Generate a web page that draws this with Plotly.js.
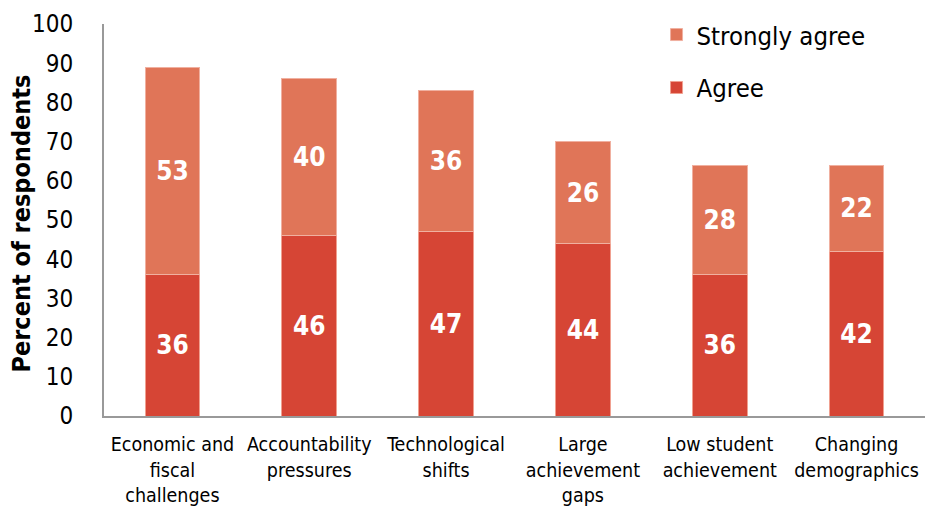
<!DOCTYPE html>
<html>
<head>
<meta charset="utf-8">
<script src="https://cdn.plot.ly/plotly-3.0.1.min.js"></script>
<style>html,body{margin:0;padding:0;background:#fff;}#chart{width:925px;height:508px;}</style>
</head>
<body>
<div id="chart"></div>
<script>
const categories = ["Economic and<br>fiscal<br>challenges", "Accountability<br>pressures", "Technological<br>shifts", "Large<br>achievement<br>gaps", "Low student<br>achievement", "Changing<br>demographics"];
const agree = [36, 46, 47, 44, 36, 42];
const stronglyAgree = [53, 40, 36, 26, 28, 22];
const yTicks = [0, 10, 20, 30, 40, 50, 60, 70, 80, 90, 100];
const yTitle = 'Percent of respondents';

const FONT = "DejaVu Sans Condensed, DejaVu Sans, sans-serif";
const common = {
  type: 'bar',
  x: categories,
  textposition: 'inside',
  insidetextanchor: 'middle',
  textangle: 0,
  textfont: {family: FONT, size: 26, color: '#ffffff', weight: 'bold'},
  hoverinfo: 'skip'
};
const data = [
  Object.assign({}, common, {
    name: 'Agree', y: agree, text: agree.map(String), legend: 'legend2',
    marker: {color: '#D64535', line: {color: '#F0A090', width: 1}}
  }),
  Object.assign({}, common, {
    name: 'Strongly agree', y: stronglyAgree, text: stronglyAgree.map(String), legend: 'legend',
    marker: {color: '#E07558', line: {color: '#F0B0A0', width: 1}}
  })
];
const legendBase = {
  x: 0.673, xanchor: 'left', yanchor: 'middle',
  font: {family: FONT, size: 25.5, color: '#000'}, itemwidth: 30,
  bgcolor: 'rgba(0,0,0,0)'
};
const layout = {
  width: 925, height: 508,
  barmode: 'stack',
  bargap: 0.6,
  margin: {l: 104, r: 0, t: 24, b: 92},
  paper_bgcolor: '#fff', plot_bgcolor: '#fff',
  font: {family: FONT, color: '#000'},
  showlegend: true,
  legend: Object.assign({}, legendBase, {y: 0.972}),
  legend2: Object.assign({}, legendBase, {y: 0.837}),
  xaxis: {
    type: 'category', showline: true, linecolor: '#999', linewidth: 2,
    ticks: '', ticklabelstandoff: 10, tickfont: {family: FONT, size: 19.5, color: '#000'}, fixedrange: true
  },
  yaxis: {
    range: [0, 100], tickvals: yTicks, ticktext: yTicks.map(String),
    showline: true, linecolor: '#999', linewidth: 2, showgrid: false, zeroline: false,
    ticks: '', ticklen: 0, ticklabelstandoff: 24, tickfont: {family: FONT, size: 24, color: '#000'}
  },
  annotations: [{
    text: yTitle, xref: 'paper', yref: 'paper', x: -0.0999, y: 0.491,
    xanchor: 'center', yanchor: 'middle', textangle: -90, showarrow: false,
    font: {family: FONT, size: 25, color: '#000', weight: 'bold'}
  }]
};
Plotly.newPlot('chart', data, layout, {displayModeBar: false, staticPlot: true});
</script>
</body>
</html>
